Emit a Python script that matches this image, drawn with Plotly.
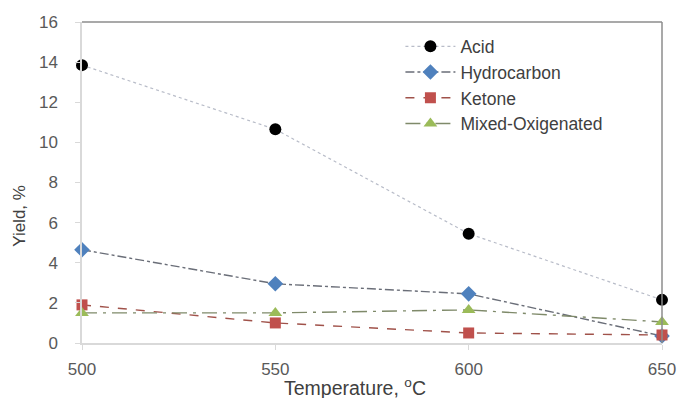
import plotly.graph_objects as go

temps = [500, 550, 600, 650]
acid = [13.85, 10.65, 5.45, 2.15]
hydrocarbon = [4.65, 2.95, 2.45, 0.35]
ketone = [1.9, 1.0, 0.5, 0.4]
mixed = [1.5, 1.5, 1.65, 1.05]
y_ticks = [0, 2, 4, 6, 8, 10, 12, 14, 16]
x_ticks = [500, 550, 600, 650]

fig = go.Figure()
fig.add_trace(go.Scatter(x=temps, y=acid, name="Acid", mode="lines+markers",
                         line=dict(color="#b8bcc8", width=1.2, dash="dot"),
                         marker=dict(symbol="circle", size=12, color="black")))
fig.add_trace(go.Scatter(x=temps, y=hydrocarbon, name="Hydrocarbon", mode="lines+markers",
                         line=dict(color="#6a6e78", width=1.4, dash="dashdot"),
                         marker=dict(symbol="diamond", size=12, color="#4F81BD")))
fig.add_trace(go.Scatter(x=temps, y=ketone, name="Ketone", mode="lines+markers",
                         line=dict(color="#a0524a", width=1.4, dash="dash"),
                         marker=dict(symbol="square", size=11, color="#C0504D")))
fig.add_trace(go.Scatter(x=temps, y=mixed, name="Mixed-Oxigenated", mode="lines+markers",
                         line=dict(color="#7f8a6a", width=1.4, dash="longdashdot"),
                         marker=dict(symbol="triangle-up", size=12, color="#9BBB59")))

fig.update_traces(cliponaxis=False)

fig.add_shape(type="line", xref="paper", yref="paper", x0=0, x1=1, y0=1, y1=1,
              line=dict(color="#8c8c8c", width=1.5))
fig.add_shape(type="line", xref="paper", yref="paper", x0=1, x1=1, y0=0, y1=1,
              line=dict(color="#8c8c8c", width=1.5))

fig.add_annotation(text="Temperature, <sup>o</sup>C", xref="paper", yref="paper",
                   x=0.471, y=-0.137, xanchor="center", yanchor="middle",
                   showarrow=False, font=dict(size=19.5, color="#404040"))
fig.add_annotation(text="Yield, %", xref="paper", yref="paper",
                   x=-0.107, y=0.396, xanchor="center", yanchor="middle",
                   textangle=-90, showarrow=False,
                   font=dict(size=17, color="#404040"))

font_family = "Liberation Sans, Arial, sans-serif"
fig.update_layout(
    width=678, height=398,
    margin=dict(l=82, r=16, t=22, b=55, autoexpand=False),
    paper_bgcolor="white", plot_bgcolor="white",
    font=dict(family=font_family, size=15, color="#595959"),
    showlegend=True,
    legend=dict(x=0.549, y=0.98, xanchor="left", yanchor="top",
                bgcolor="rgba(0,0,0,0)", font=dict(size=17.5, color="#404040"),
                tracegroupgap=0, itemwidth=50),
    xaxis=dict(range=[500, 650], tickvals=x_ticks, showgrid=False, zeroline=False,
               automargin=False,
               showline=True, linecolor="#d9d9d9", linewidth=1.5,
               ticks="outside", ticklen=5, tickcolor="#d9d9d9",
               ticklabelstandoff=5,
               tickfont=dict(size=17)),
    yaxis=dict(range=[0, 16], tickvals=y_ticks, showgrid=False, zeroline=False,
               automargin=False,
               showline=True, linecolor="#d9d9d9", linewidth=1.5,
               ticks="outside", ticklen=5, tickcolor="#d9d9d9",
               ticklabelstandoff=14,
               tickfont=dict(size=17)),
)

fig.write_html("out.html", config={"displayModeBar": False},
               post_script="document.body.style.margin='0';")
